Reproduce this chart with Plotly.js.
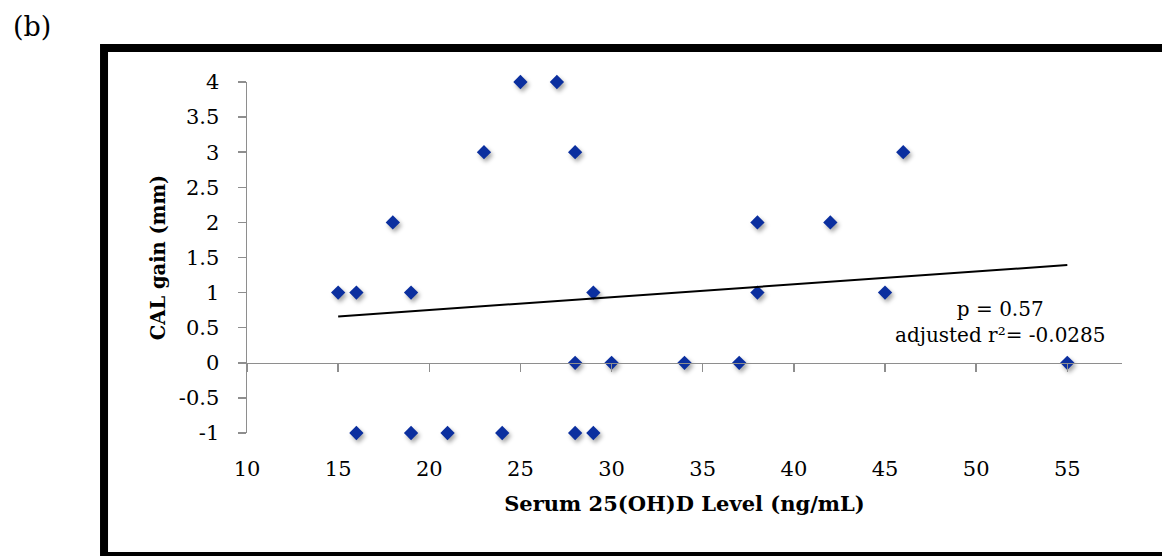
<!DOCTYPE html>
<html>
<head>
<meta charset="utf-8">
<script src="https://cdn.plot.ly/plotly-3.0.1.min.js"></script>
<style>
  html, body { margin: 0; padding: 0; background: #ffffff; }
  #chart { width: 1162px; height: 556px; }
  .scatterlayer .trace path.point { filter: drop-shadow(2px 3px 2px rgba(0,0,0,0.35)); }
</style>
</head>
<body>
<div id="chart"></div>
<script>
// Serum 25(OH)D level (ng/mL) and CAL gain (mm) for each subject
const serumLevel = [15, 16, 19, 29, 38, 45, 18, 38, 42, 23, 28, 46, 25, 27, 28, 30, 34, 37, 55, 16, 19, 21, 24, 28, 29];
const calGain    = [ 1,  1,  1,  1,  1,  1,  2,  2,  2,  3,  3,  3,  4,  4,  0,  0,  0,  0,  0, -1, -1, -1, -1, -1, -1];

const xTickVals = [10, 15, 20, 25, 30, 35, 40, 45, 50, 55];
const xTickText = ["10", "15", "20", "25", "30", "35", "40", "45", "50", "55"];
const yTickVals = [-1, -0.5, 0, 0.5, 1, 1.5, 2, 2.5, 3, 3.5, 4];
const yTickText = ["-1", "-0.5", "0", "0.5", "1", "1.5", "2", "2.5", "3", "3.5", "4"];

const statsText = "p = 0.57<br>adjusted r²= -0.0285";
const panelLabel = "(b)";
const xTitle = "Serum 25(OH)D Level (ng/mL)";
const yTitle = "CAL gain (mm)";

// least-squares linear trendline computed from the data
const n = serumLevel.length;
const mx = serumLevel.reduce((a, b) => a + b, 0) / n;
const my = calGain.reduce((a, b) => a + b, 0) / n;
let sxy = 0, sxx = 0;
for (let i = 0; i < n; i++) {
  sxy += (serumLevel[i] - mx) * (calGain[i] - my);
  sxx += (serumLevel[i] - mx) * (serumLevel[i] - mx);
}
const slope = sxy / sxx;
const intercept = my - slope * mx;
const xMin = Math.min(...serumLevel), xMax = Math.max(...serumLevel);
const trendX = [xMin, xMax];
const trendY = trendX.map(v => intercept + slope * v);

const FONT = "DejaVu Serif";
const AXIS_GRAY = "#8e8e8e";

const traces = [
  {
    x: trendX, y: trendY, xaxis: "x2", yaxis: "y",
    mode: "lines", type: "scatter", cliponaxis: false,
    line: { color: "#000000", width: 2 },
    hoverinfo: "skip", showlegend: false
  },
  {
    x: serumLevel, y: calGain, xaxis: "x", yaxis: "y",
    mode: "markers", type: "scatter", cliponaxis: false,
    marker: { symbol: "diamond", size: 11, color: "#0b2f9f", line: { width: 0 } },
    showlegend: false
  }
];

const layout = {
  width: 1162, height: 556,
  margin: { l: 247, r: 40, t: 82, b: 123 },
  paper_bgcolor: "#ffffff", plot_bgcolor: "#ffffff",
  font: { family: FONT, color: "#000000", size: 20 },
  showlegend: false,
  xaxis: {
    range: [10, 58],
    tickmode: "array", tickvals: xTickVals, ticktext: xTickText,
    showgrid: false, zeroline: false, showline: false, ticks: "",
    ticklabelstandoff: 21,
    tickfont: { family: FONT, size: 21, color: "#000000" },
    title: { text: xTitle, font: { family: FONT, size: 21, weight: "bold", color: "#000000" }, standoff: 16 },
    fixedrange: true
  },
  xaxis2: {
    matches: "x", overlaying: "x", anchor: "free", position: 0.2, side: "bottom",
    tickmode: "array", tickvals: xTickVals,
    showticklabels: false, showgrid: false, zeroline: false,
    showline: true, linecolor: AXIS_GRAY, linewidth: 1.5,
    ticks: "outside", ticklen: 8, tickcolor: AXIS_GRAY, tickwidth: 1.5,
    fixedrange: true
  },
  yaxis: {
    range: [-1, 4],
    tickmode: "array", tickvals: yTickVals, ticktext: yTickText,
    showgrid: false, zeroline: false,
    showline: true, linecolor: AXIS_GRAY, linewidth: 1.5,
    ticks: "outside", ticklen: 8, tickcolor: AXIS_GRAY, tickwidth: 1.5,
    ticklabelstandoff: 14,
    tickfont: { family: FONT, size: 21, color: "#000000" },
    title: { text: yTitle, font: { family: FONT, size: 19.5, weight: "bold", color: "#000000" }, standoff: 8 },
    fixedrange: true
  },
  shapes: [
    {
      type: "rect", xref: "paper", yref: "paper",
      x0: -0.1634, x1: 1.0549, y0: -0.3504, y1: 1.0969,
      line: { color: "#000000", width: 8 }, fillcolor: "rgba(0,0,0,0)", layer: "below"
    }
  ],
  annotations: [
    {
      text: panelLabel, xref: "paper", yref: "paper",
      x: -0.2457, y: 1.1567, xanchor: "center", yanchor: "middle",
      showarrow: false, font: { family: FONT, size: 27, color: "#000000" }
    },
    {
      text: statsText, xref: "paper", yref: "paper",
      x: 0.8606, y: 0.315, xanchor: "center", yanchor: "middle", align: "center",
      showarrow: false, font: { family: FONT, size: 20, color: "#000000" }
    }
  ]
};

Plotly.newPlot("chart", traces, layout, { displayModeBar: false, staticPlot: true });
</script>
</body>
</html>
